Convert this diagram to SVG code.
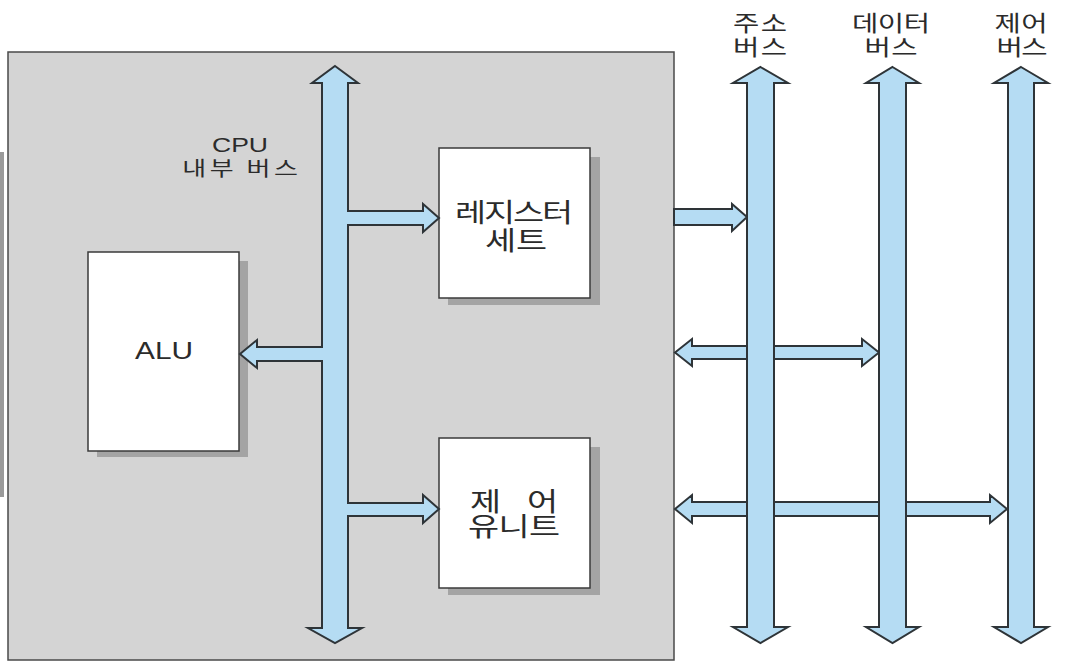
<svg xmlns="http://www.w3.org/2000/svg" width="1072" height="664" viewBox="0 0 1072 664">
<style>
.bus{fill:#b5dcf3;stroke:#2e3438;stroke-width:2;stroke-linejoin:miter}
.box{fill:#ffffff;stroke:#3a3a3a;stroke-width:1.5}
.shadow{fill:#a4a4a4}
.t{font-family:"Liberation Sans","Noto Sans CJK KR",sans-serif;fill:#2b2b2b;text-anchor:middle}
.k{font-family:"Noto Sans CJK KR","Noto Sans CJK SC",sans-serif;fill:#2b2b2b;text-anchor:middle}
</style>
<rect width="1072" height="664" fill="#ffffff"/>
<rect x="0" y="152" width="4" height="345" fill="#9a9a9a"/>
<g id="cpu">
<rect x="8" y="52" width="666" height="608" fill="#d4d4d4" stroke="#4a4a4a" stroke-width="1.5"/>
</g>
<g id="alu">
<rect class="shadow" x="97" y="261" width="151" height="196"/>
<rect class="box" x="88" y="252" width="151" height="199"/>
<text class="t" x="164" y="359" font-size="24" textLength="58" lengthAdjust="spacingAndGlyphs">ALU</text>
</g>
<g id="register-set">
<rect class="shadow" x="448" y="157" width="152" height="148"/>
<rect class="box" x="439" y="148" width="151" height="150"/>
<text class="k" transform="translate(514,222) scale(1.3,1)" font-size="26" textLength="90.8" lengthAdjust="spacing">레지스터</text>
<text class="k" transform="translate(516,250) scale(1.3,1)" font-size="26" textLength="47.7" lengthAdjust="spacing">세트</text>
</g>
<g id="control-unit">
<rect class="shadow" x="448" y="447" width="152" height="148"/>
<rect class="box" x="439" y="438" width="151" height="150"/>
<text class="k" transform="translate(514,511) scale(1.3,1)" font-size="26" textLength="67.7" lengthAdjust="spacing">제 어</text>
<text class="k" transform="translate(514,536) scale(1.3,1)" font-size="26" textLength="70.8" lengthAdjust="spacing">유니트</text>
</g>
<g id="labels">
<text class="t" x="240" y="152" font-size="20" textLength="56" lengthAdjust="spacingAndGlyphs">CPU</text>
<text class="k" transform="translate(240,176) scale(1.3,1)" font-size="20" textLength="89" lengthAdjust="spacing">내부 버스</text>
<text class="k" transform="translate(760,31) scale(1.3,1)" font-size="22" textLength="41.5" lengthAdjust="spacing">주소</text>
<text class="k" transform="translate(760,55) scale(1.3,1)" font-size="22" textLength="41.5" lengthAdjust="spacing">버스</text>
<text class="k" transform="translate(891,31) scale(1.3,1)" font-size="22" textLength="60" lengthAdjust="spacing">데이터</text>
<text class="k" transform="translate(891,55) scale(1.3,1)" font-size="22" textLength="40.8" lengthAdjust="spacing">버스</text>
<text class="k" transform="translate(1021,31) scale(1.3,1)" font-size="22" textLength="40.8" lengthAdjust="spacing">제어</text>
<text class="k" transform="translate(1022,55) scale(1.3,1)" font-size="22" textLength="39.2" lengthAdjust="spacing">버스</text>
</g>
<g id="connectors">
<path id="internal-bus" class="bus" d="M335,66 L358,83 L348,83 L348,211 L423,211 L423,204 L439,218 L423,232 L423,225 L348,225 L348,503 L423,503 L423,495 L439,509 L423,523 L423,516 L348,516 L348,628 L362,628 L335,643 L308,628 L322,628 L322,361 L257,361 L257,368 L240,354 L257,340 L257,347 L322,347 L322,83 L312,83 Z"/>
<path id="addr-out" class="bus" d="M674,209 L732,209 L732,204 L747,217 L732,231 L732,225 L674,225 Z"/>
<path id="data-link" class="bus" d="M675,352.5 L692,339 L692,346 L862,346 L862,339 L879,352.5 L862,366 L862,359 L692,359 L692,366 Z"/>
<path id="ctrl-link" class="bus" d="M675,509 L692,495 L692,502 L990,502 L990,495 L1007,509 L990,523 L990,516 L692,516 L692,523 Z"/>
<path id="address-bus" class="bus" d="M760.5,67 L788,83 L774,83 L774,627 L788,627 L760.5,643 L733,627 L747,627 L747,83 L733,83 Z"/>
<path id="data-bus" class="bus" d="M892.5,67 L919,83 L906,83 L906,627 L919,627 L892.5,643 L866,627 L879,627 L879,83 L866,83 Z"/>
<path id="control-bus" class="bus" d="M1021,67 L1048,83 L1034,83 L1034,627 L1048,627 L1021,643 L994,627 L1008,627 L1008,83 L994,83 Z"/>
</g>
</svg>
